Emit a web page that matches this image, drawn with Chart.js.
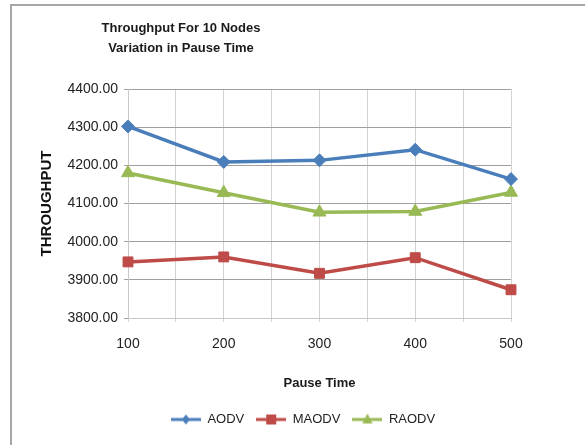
<!DOCTYPE html>
<html>
<head>
<meta charset="utf-8">
<script src="https://cdn.jsdelivr.net/npm/chart.js@4.4.1/dist/chart.umd.min.js"></script>
<style>
  html, body { margin: 0; padding: 0; background: #fff; }
  #wrap { position: relative; width: 585px; height: 445px; overflow: hidden; }
  #frame { position: absolute; left: 10px; top: 4px; right: -4px; bottom: -4px;
           border-left: 2px solid #a6a6a6; border-top: 2px solid #a6a6a6; }
  canvas { position: absolute; left: 0; top: 0; }
</style>
</head>
<body>
<div id="wrap">
  <div id="frame"></div>
  <canvas id="c" width="585" height="445"></canvas>
</div>
<script>
// Pause time (x) and throughput of each routing protocol
const pauseTimes = [100, 200, 300, 400, 500];
const aodv  = [4302, 4209, 4213, 4241, 4164];
const maodv = [3947, 3960, 3917, 3958, 3874];
const raodv = [4180, 4128, 4077, 4079, 4129];
const seriesNames = ['AODV', 'MAODV', 'RAODV'];
const titleLines = ['Throughput For 10 Nodes', 'Variation in Pause Time'];
const xTitle = 'Pause Time';
const yTitle = 'THROUGHPUT';

const colors = ['#4a7ebb', '#be4b48', '#98b954'];
const styles = ['rectRot', 'rect', 'triangle'];
const radii = [6.5, 7, 7.5];

const FONT = "'Liberation Sans', Arial, sans-serif";

function toPoints(vals) {
  return pauseTimes.map((x, i) => ({ x: x, y: vals[i] }));
}

// Small line-with-marker swatch for the legend
function swatch(color, style) {
  const c = document.createElement('canvas');
  c.width = 30; c.height = 14;
  const g = c.getContext('2d');
  g.strokeStyle = color; g.fillStyle = color; g.lineWidth = 3;
  g.beginPath(); g.moveTo(0, 7); g.lineTo(30, 7); g.stroke();
  g.beginPath();
  if (style === 'rectRot') {
    g.moveTo(15, 2); g.lineTo(19, 7); g.lineTo(15, 12); g.lineTo(11, 7);
  } else if (style === 'rect') {
    g.rect(10, 2, 10, 10);
  } else {
    g.moveTo(15, 1); g.lineTo(20, 11); g.lineTo(10, 11);
  }
  g.closePath(); g.fill();
  return c;
}

const datasets = [aodv, maodv, raodv].map((vals, i) => ({
  label: seriesNames[i],
  data: toPoints(vals),
  borderColor: colors[i],
  backgroundColor: colors[i],
  borderWidth: 3.5,
  pointStyle: styles[i],
  pointRadius: radii[i],
  pointHoverRadius: radii[i],
  pointBorderWidth: 1,
  tension: 0,
  clip: false
}));

// Two-line heading drawn over the upper-left part of the chart
const headingPlugin = {
  id: 'heading',
  afterDraw(chart) {
    const ctx = chart.ctx;
    ctx.save();
    ctx.fillStyle = '#1a1a1a';
    ctx.font = "bold 13px " + FONT;
    ctx.textAlign = 'center';
    ctx.textBaseline = 'middle';
    ctx.fillText(titleLines[0], 181, 28);
    ctx.fillText(titleLines[1], 181, 48);
    ctx.restore();
  }
};

new Chart(document.getElementById('c'), {
  type: 'line',
  data: { datasets: datasets },
  plugins: [headingPlugin],
  options: {
    responsive: false,
    animation: false,
    layout: { padding: { left: 21, right: 0, top: 89, bottom: 9 } },
    plugins: {
      title: { display: false },
      tooltip: { enabled: false },
      legend: {
        position: 'bottom',
        labels: {
          usePointStyle: true,
          pointStyleWidth: 30,
          padding: 12,
          color: '#222',
          font: { family: FONT, size: 13 },
          generateLabels(chart) {
            return chart.data.datasets.map((d, i) => ({
              text: d.label,
              fillStyle: colors[i],
              strokeStyle: colors[i],
              lineWidth: 0,
              pointStyle: swatch(colors[i], styles[i]),
              datasetIndex: i,
              hidden: false,
              fontColor: '#222'
            }));
          }
        }
      }
    },
    scales: {
      x: {
        type: 'linear',
        min: 100,
        max: 500,
        afterFit(scale) { scale.height = 83; },
        ticks: {
          stepSize: 50,
          autoSkip: false,
          maxRotation: 0,
          padding: 14,
          color: '#222',
          font: { family: FONT, size: 14 },
          callback: v => (v % 100 === 0 ? String(v) : '')
        },
        grid: { color: '#d3d3d3', lineWidth: 1, tickLength: 4, tickColor: '#d3d3d3' },
        border: { color: '#c8c8c8', width: 1 },
        title: {
          display: true,
          text: xTitle,
          color: '#1a1a1a',
          font: { family: FONT, size: 13, weight: 'bold' },
          padding: { top: 0, bottom: 10 }
        }
      },
      y: {
        min: 3800,
        max: 4400,
        afterFit(scale) { scale.width = 107; },
        ticks: {
          stepSize: 100,
          padding: 6,
          color: '#222',
          font: { family: FONT, size: 14 },
          callback: v => v.toFixed(2)
        },
        grid: { color: '#a0a0a0', lineWidth: 1, tickLength: 4, tickColor: '#a0a0a0' },
        border: { color: '#c8c8c8', width: 1 },
        title: {
          display: true,
          text: yTitle,
          color: '#111',
          font: { family: FONT, size: 15, weight: 'bold' },
          padding: { top: 17, bottom: 0 }
        }
      },
      // empty right-hand axis that only reserves the blank margin on the right
      yRight: {
        position: 'right',
        min: 3800,
        max: 4400,
        afterFit(scale) { scale.width = 74; },
        ticks: { display: false },
        grid: { display: false },
        border: { display: false }
      }
    }
  }
});
</script>
</body>
</html>
